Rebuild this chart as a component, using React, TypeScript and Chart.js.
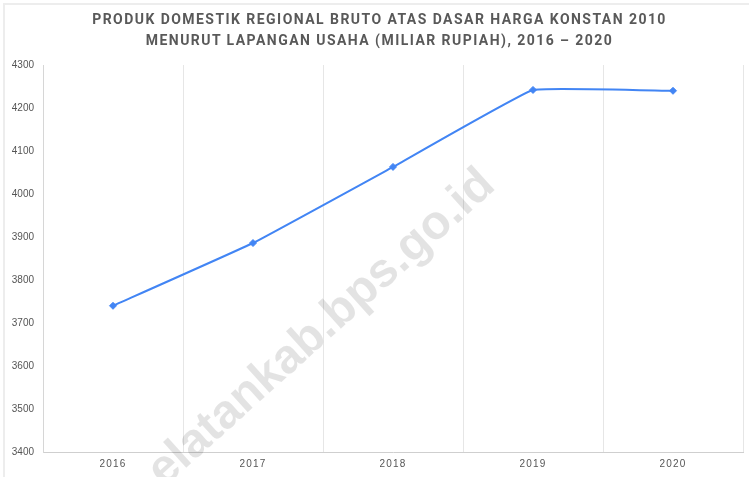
import React, { useEffect, useRef } from "react";
import { Chart, registerables } from "chart.js";

Chart.register(...registerables);

const TITLE_LINES = [
  "PRODUK DOMESTIK REGIONAL BRUTO ATAS DASAR HARGA KONSTAN 2010",
  "MENURUT LAPANGAN USAHA (MILIAR RUPIAH), 2016 – 2020",
];
const YEARS = ["2016", "2017", "2018", "2019", "2020"];
const PDRB = [3740, 3886, 4063, 4242, 4240];
const Y_MIN = 3400;
const Y_MAX = 4300;
const Y_STEP = 100;
const WATERMARK = "elatankab.bps.go.id";

const watermarkPlugin = {
  id: "watermark",
  beforeDatasetsDraw(chart: any) {
    const ctx = chart.ctx;
    ctx.save();
    ctx.translate(497, 188);
    ctx.rotate((-42 * Math.PI) / 180);
    ctx.font = 'bold 48px "Liberation Sans", Arial, sans-serif';
    ctx.fillStyle = "rgba(0,0,0,0.11)";
    ctx.textAlign = "right";
    ctx.textBaseline = "alphabetic";
    ctx.fillText(WATERMARK, 0, 0);
    ctx.restore();
  },
};

const spacingPlugin = {
  id: "xLetterSpacing",
  afterUpdate(chart: any) {
    const s = chart.scales.x;
    if (s && !s.__patched) {
      const orig = s.drawLabels.bind(s);
      s.drawLabels = (area: any) => {
        const c = chart.ctx;
        c.save();
        c.letterSpacing = "1.2px";
        orig(area);
        c.restore();
      };
      s.__patched = true;
    }
  },
};

export default function App() {
  const ref = useRef<HTMLCanvasElement | null>(null);

  useEffect(() => {
    if (!ref.current) return;
    const chart = new Chart(ref.current, {
      type: "line",
      data: {
        labels: YEARS,
        datasets: [
          {
            data: PDRB,
            borderColor: "#4285F4",
            backgroundColor: "#4285F4",
            borderWidth: 2,
            tension: 0.08,
            pointStyle: "rectRot",
            pointRadius: 3.5,
            pointHoverRadius: 3.5,
            pointBorderWidth: 1,
            pointBackgroundColor: "#4285F4",
            pointBorderColor: "#4285F4",
            fill: false,
          },
        ],
      },
      options: {
        animation: false,
        responsive: true,
        maintainAspectRatio: false,
        layout: { padding: { top: 65, left: 0, right: 6, bottom: 0 } },
        plugins: {
          legend: { display: false },
          title: { display: false },
          tooltip: { enabled: false },
        },
        scales: {
          x: {
            offset: true,
            grid: { display: true, offset: true, color: "#e6e6e6", lineWidth: 1, drawTicks: false },
            border: { display: true, color: "#cfcfcf" },
            ticks: {
              color: "#555555",
              padding: 6,
              font: { family: '"Liberation Sans", Arial, sans-serif', size: 10 },
            },
            afterFit: (s: any) => {
              s.height = 25;
            },
          },
          y: {
            min: Y_MIN,
            max: Y_MAX,
            grid: { display: false, drawTicks: false },
            border: { display: true, color: "#d6d6d6" },
            ticks: {
              stepSize: Y_STEP,
              color: "#555555",
              padding: 9,
              font: { family: '"Liberation Sans", Arial, sans-serif', size: 10 },
              callback: (v: any) => String(v),
            },
            afterFit: (s: any) => {
              s.width = 43;
            },
          },
        },
      },
      plugins: [watermarkPlugin, spacingPlugin],
    });
    return () => chart.destroy();
  }, []);

  return (
    <div
      style={{
        position: "fixed",
        left: 0,
        top: 0,
        width: 749,
        height: 477,
        background: "#ffffff",
        overflow: "hidden",
      }}
    >
      <div
        style={{
          position: "absolute",
          left: 3,
          top: 3,
          right: 0,
          bottom: 0,
          borderTop: "2px solid #ededed",
          borderLeft: "2px solid #ededed",
        }}
      />
      <canvas ref={ref} style={{ position: "absolute", left: 0, top: 0, width: 749, height: 477 }} />
      <div
        style={{
          position: "absolute",
          left: 0,
          top: 9,
          width: 749,
          paddingLeft: 10,
          boxSizing: "border-box",
          textAlign: "center",
          fontFamily: "Roboto, 'Liberation Sans', Arial, sans-serif",
          fontWeight: 700,
          fontSize: 14,
          lineHeight: "21px",
          letterSpacing: "1.45px",
          color: "#595959",
          pointerEvents: "none",
        }}
      >
        {TITLE_LINES.map((t) => (
          <div key={t}>{t}</div>
        ))}
      </div>
    </div>
  );
}
